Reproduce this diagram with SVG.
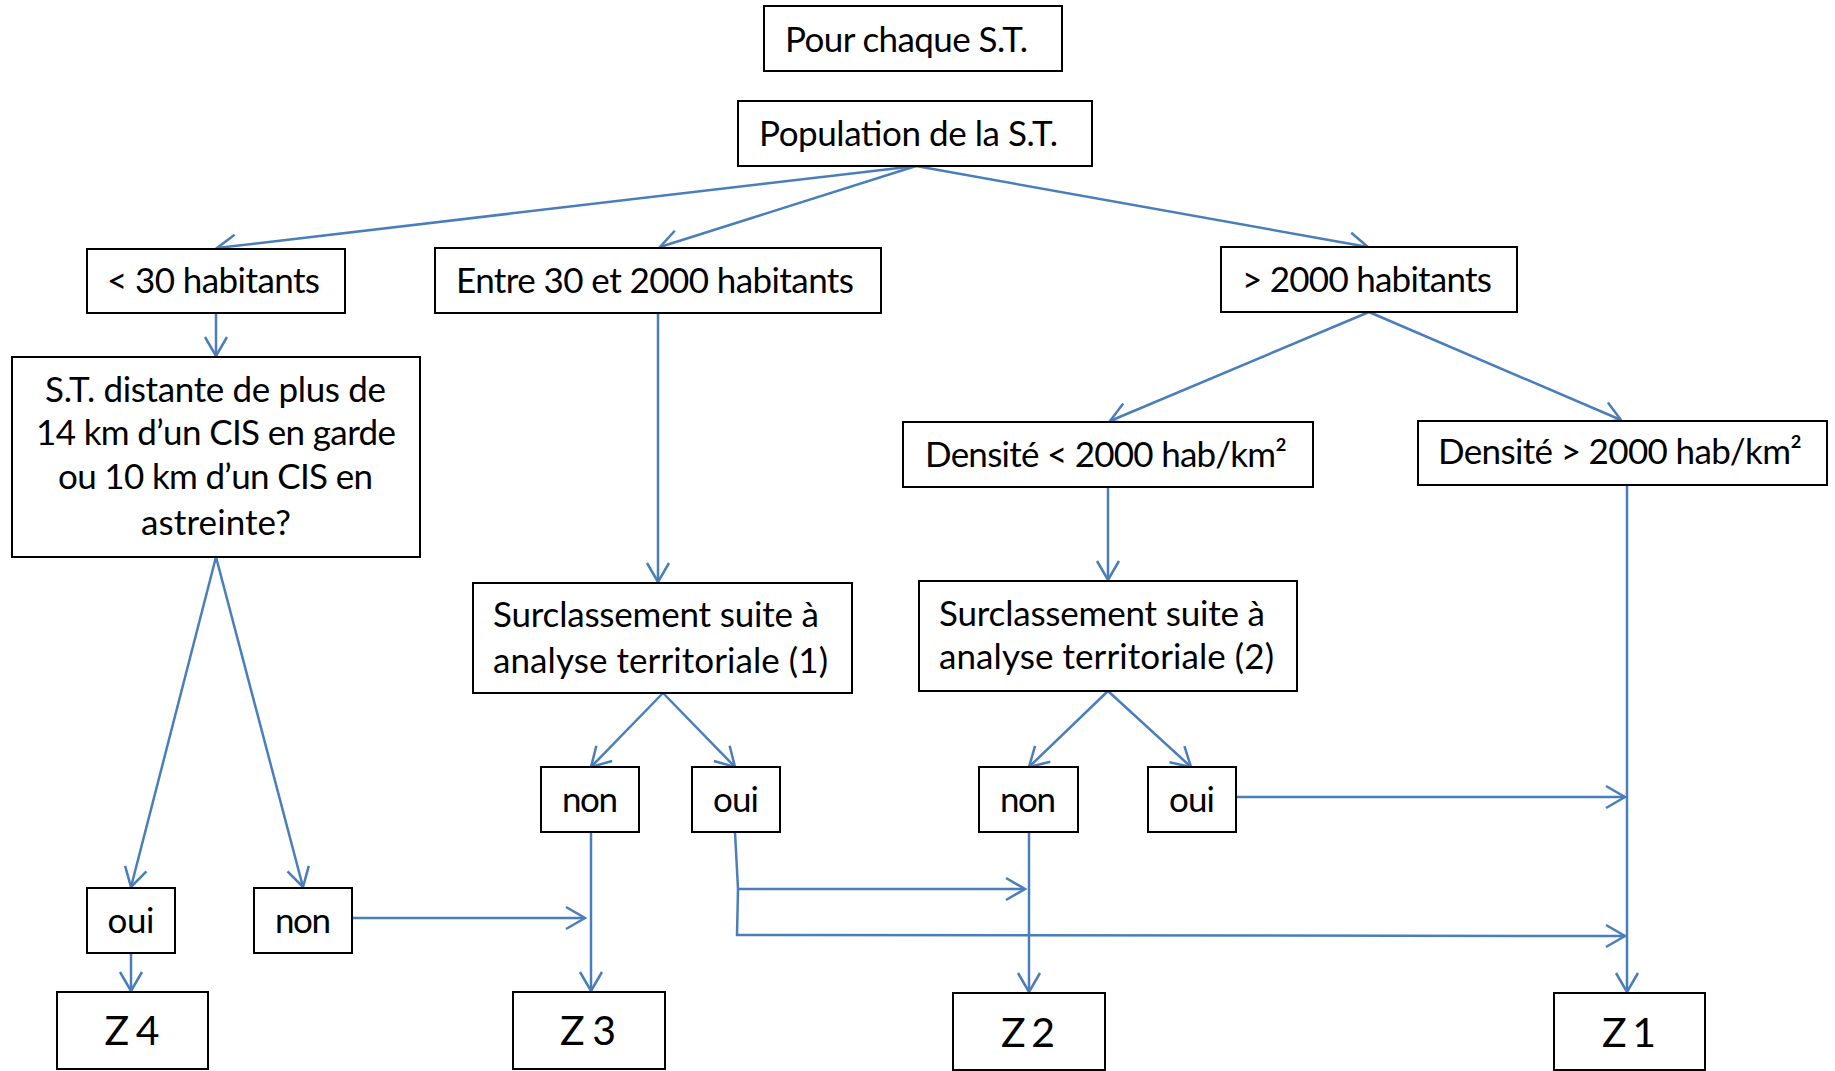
<svg xmlns="http://www.w3.org/2000/svg" width="1835" height="1071" viewBox="0 0 1835 1071">
<style>
.box{fill:#fff;stroke:#000;stroke-width:2}
.t{font-family:Lato,"Liberation Sans",sans-serif;font-size:35px;fill:#000}
.c{text-anchor:middle}
.z{font-size:41px}
.cn{fill:none;stroke:#4A7EBB;stroke-width:2.5}
</style>
<defs>
<marker id="ah" markerUnits="userSpaceOnUse" viewBox="-23 -14 26 28" refX="0" refY="0" markerWidth="26" markerHeight="28" orient="auto">
<path d="M-19,-11 L0,0 L-19,11" fill="none" stroke="#4A7EBB" stroke-width="2.5"/>
</marker>
</defs>
<rect width="1835" height="1071" fill="#fff"/>
<g id="connectors" class="cn" marker-end="url(#ah)">
<path d="M916,166 L217,248"/>
<path d="M916,166 L660,247"/>
<path d="M916,166 L1368,247"/>
<path d="M216,313 L216,356"/>
<path d="M658,313 L658,582"/>
<path d="M1369,312 L1110,421"/>
<path d="M1369,312 L1621,420"/>
<path d="M1108,487 L1108,580"/>
<path d="M1627,485 L1627,992"/>
<path d="M216,557 L131,887"/>
<path d="M216,557 L303,887"/>
<path d="M131,953 L131,991"/>
<path d="M352,918 L585,918"/>
<path d="M663,693 L591,767"/>
<path d="M663,693 L735,767"/>
<path d="M591,832 L591,991"/>
<path d="M1108,691 L1029,767"/>
<path d="M1108,691 L1191,767"/>
<path d="M1029,832 L1029,992"/>
<path d="M1236,797 L1625,797"/>
<path d="M738,889 L1025,889"/>
<path d="M735,832 L738,889 L737,935 L1625,936"/>
</g>
<g id="n-pour"><rect class="box" x="764" y="6" width="298" height="65"/><text class="t c" x="906.5" y="52" textLength="243">Pour chaque S.T.</text></g>
<g id="n-population"><rect class="box" x="738" y="101" width="354" height="65"/><text class="t c" x="908.5" y="146" textLength="299">Population de la S.T.</text></g>
<g id="n-lt30"><rect class="box" x="87" y="249" width="258" height="64"/><text class="t c" x="213.5" y="293" textLength="213">&lt; 30 habitants</text></g>
<g id="n-entre"><rect class="box" x="435" y="248" width="446" height="65"/><text class="t c" x="655" y="293" textLength="398">Entre 30 et 2000 habitants</text></g>
<g id="n-gt2000"><rect class="box" x="1221" y="247" width="296" height="65"/><text class="t c" x="1367" y="292" textLength="250">&gt; 2000 habitants</text></g>
<g id="n-distante"><rect class="box" x="12" y="357" width="408" height="200"/>
<text class="t c" x="215.5" y="402" textLength="341">S.T. distante de plus de</text>
<text class="t c" x="216" y="445" textLength="360">14 km d’un CIS en garde</text>
<text class="t c" x="215.5" y="489" textLength="315">ou 10 km d’un CIS en</text>
<text class="t c" x="216" y="535" textLength="150">astreinte?</text></g>
<g id="n-dens-lt"><rect class="box" x="903" y="422" width="410" height="65"/><text class="t c" x="1106" y="467" textLength="362">Densité &lt; 2000 hab/km²</text></g>
<g id="n-dens-gt"><rect class="box" x="1418" y="421" width="409" height="64"/><text class="t c" x="1620" y="464" textLength="364">Densité &gt; 2000 hab/km²</text></g>
<g id="n-surcl1"><rect class="box" x="473" y="583" width="379" height="110"/>
<text class="t" x="493" y="627" textLength="326">Surclassement suite à</text>
<text class="t" x="493" y="673" textLength="335">analyse territoriale (1)</text></g>
<g id="n-surcl2"><rect class="box" x="919" y="581" width="378" height="110"/>
<text class="t" x="939" y="626" textLength="326">Surclassement suite à</text>
<text class="t" x="939" y="669" textLength="335">analyse territoriale (2)</text></g>
<g id="n-oui-a"><rect class="box" x="87" y="888" width="88" height="65"/><text class="t c" x="131" y="933" textLength="47">oui</text></g>
<g id="n-non-a"><rect class="box" x="254" y="888" width="98" height="65"/><text class="t c" x="303" y="933" textLength="56">non</text></g>
<g id="n-non-b"><rect class="box" x="541" y="767" width="98" height="65"/><text class="t c" x="590" y="812" textLength="56">non</text></g>
<g id="n-oui-b"><rect class="box" x="692" y="767" width="88" height="65"/><text class="t c" x="736" y="812" textLength="46">oui</text></g>
<g id="n-non-c"><rect class="box" x="979" y="767" width="99" height="65"/><text class="t c" x="1028" y="812" textLength="56">non</text></g>
<g id="n-oui-c"><rect class="box" x="1148" y="767" width="88" height="65"/><text class="t c" x="1192" y="812" textLength="46">oui</text></g>
<g id="n-z4"><rect class="box" x="57" y="992" width="151" height="77"/><text class="t c z" x="132" y="1045" textLength="55">Z 4</text></g>
<g id="n-z3"><rect class="box" x="513" y="992" width="152" height="77"/><text class="t c z" x="588" y="1045" textLength="56">Z 3</text></g>
<g id="n-z2"><rect class="box" x="953" y="993" width="152" height="77"/><text class="t c z" x="1028" y="1047" textLength="54">Z 2</text></g>
<g id="n-z1"><rect class="box" x="1554" y="993" width="151" height="77"/><text class="t c z" x="1629" y="1047" textLength="54">Z 1</text></g>
</svg>
